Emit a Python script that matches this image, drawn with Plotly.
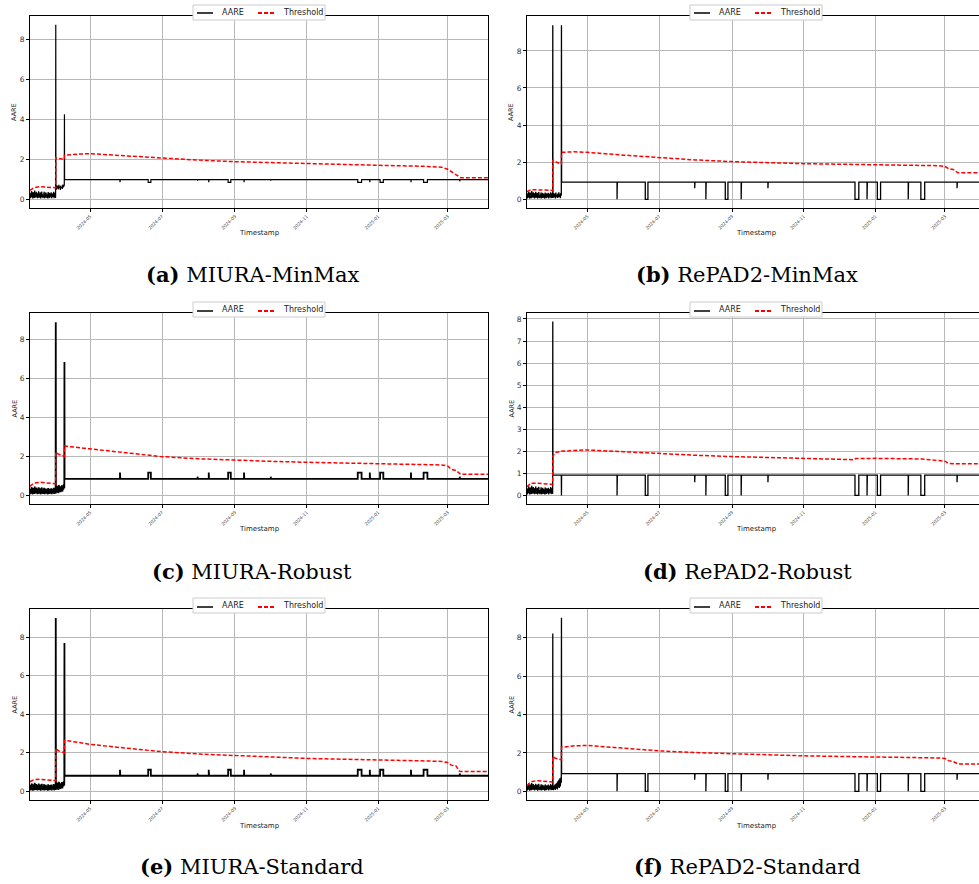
import pandas as pd
import plotly.graph_objects as go

W, H = 979, 884

# ---------------- shared timeline markers ----------------
START = "2024-03-10 17:00"
NOISE_END = "2024-04-01 12:00"
SPIKE1 = "2024-04-01 15:00"
MID_START = "2024-04-01 18:00"
MID_END = "2024-04-08 21:00"
SPIKE2 = "2024-04-09 00:00"
FLAT_START = "2024-04-09 03:00"
FLAT_END = "2025-04-05 00:00"

LEFT_RANGE = ["2024-03-10 17:00", "2025-04-04 07:00"]
RIGHT_RANGE = ["2024-03-10 17:00", "2025-03-29 22:00"]

# early noisy AARE (before first spike)
NOISE_PRE = [0.18, 0.05, 0.32, 0.09, 0.41, 0.12, 0.27, 0.04, 0.36, 0.15, 0.22, 0.06,
             0.44, 0.10, 0.30, 0.08, 0.38, 0.14, 0.25, 0.05, 0.33, 0.11, 0.40, 0.07,
             0.21, 0.13, 0.35, 0.04, 0.28, 0.16, 0.39, 0.09, 0.24, 0.06, 0.31, 0.12,
             0.37, 0.05, 0.26, 0.10, 0.34, 0.07, 0.29, 0.15, 0.20, 0.04, 0.36, 0.11,
             0.23, 0.06, 0.32, 0.09, 0.27, 0.13, 0.35, 0.05, 0.22, 0.08, 0.30, 0.12,
             0.38, 0.06, 0.25, 0.10, 0.33, 0.07]

# anomaly events (shared across methods)
EVENT_START = ["2024-05-26 06:00", "2024-06-19 06:00", "2024-07-31 06:00", "2024-08-09 18:00",
               "2024-08-26 06:00", "2024-09-08 18:00", "2024-10-01 12:00", "2024-12-14 12:00",
               "2024-12-24 18:00", "2025-01-02 12:00", "2025-01-28 18:00", "2025-02-08 12:00",
               "2025-03-11 06:00"]
EVENT_END = ["2024-05-26 12:00", "2024-06-21 12:00", "2024-07-31 12:00", "2024-08-10 00:00",
             "2024-08-28 12:00", "2024-09-09 00:00", "2024-10-01 18:00", "2024-12-17 18:00",
             "2024-12-25 00:00", "2025-01-05 06:00", "2025-01-29 00:00", "2025-02-11 18:00",
             "2025-03-11 12:00"]

# threshold breakpoints (shared dates)
THR_DATES = ["2024-03-10 17:00", "2024-03-14 00:00", "2024-03-19 00:00", "2024-03-26 00:00",
             "2024-04-01 14:00", "2024-04-01 15:00", "2024-04-04 00:00", "2024-04-08 23:00",
             "2024-04-09 00:00", "2024-04-20 00:00", "2024-05-01 00:00", "2024-06-01 00:00",
             "2024-07-01 00:00", "2024-08-01 00:00", "2024-09-01 00:00", "2024-10-01 00:00",
             "2024-11-01 00:00", "2024-12-01 00:00", "2024-12-14 00:00", "2024-12-15 00:00",
             "2025-01-01 00:00", "2025-02-10 00:00", "2025-02-24 00:00", "2025-03-01 00:00",
             "2025-03-04 00:00", "2025-03-08 00:00", "2025-03-11 00:00", "2025-03-12 00:00",
             "2025-04-05 00:00"]

# ---------------- per-panel values ----------------
A_MID = [0.62, 0.48, 0.70, 0.55, 0.66, 0.50, 0.72, 0.58, 0.64, 0.47, 0.69, 0.56, 0.61, 0.52, 0.74, 0.60, 0.66, 0.71]
A_PEAKS = [8.73, 4.25]
A_BASE = 0.98
A_EVT = [0.85, 0.85, 0.93, 0.85, 0.85, 0.85, 0.93, 0.85, 0.85, 0.85, 0.85, 0.85, 0.90]
A_THR = [0.45, 0.58, 0.63, 0.62, 0.58, 2.08, 2.04, 2.00, 2.20, 2.26, 2.28, 2.17, 2.05, 1.96, 1.88,
         1.83, 1.78, 1.74, 1.72, 1.72, 1.70, 1.65, 1.60, 1.50, 1.38, 1.22, 1.12, 1.08, 1.08]

B_MID = [0.25, 0.08, 0.33, 0.12, 0.28, 0.05, 0.36, 0.15, 0.22, 0.07, 0.31, 0.10, 0.38, 0.13, 0.26, 0.06, 0.34, 0.20]
B_PEAKS = [9.38, 9.38]
B_BASE = 0.93
B_EVT = [0, 0, 0.6, 0, 0, 0, 0.6, 0, 0, 0, 0, 0, 0.6]
B_THR = [0.41, 0.52, 0.51, 0.50, 0.48, 2.12, 2.02, 1.90, 2.53, 2.56, 2.53, 2.38, 2.24, 2.12, 2.03,
         1.97, 1.92, 1.89, 1.88, 1.88, 1.87, 1.84, 1.81, 1.77, 1.65, 1.61, 1.45, 1.43, 1.43]

C_MID = [0.35, 0.12, 0.48, 0.20, 0.40, 0.10, 0.52, 0.25, 0.38, 0.15, 0.45, 0.22, 0.50, 0.18, 0.42, 0.28, 0.55, 0.35]
C_PEAKS = [8.90, 6.85]
C_BASE = 0.83
C_EVT = [1.16, 1.16, 0.95, 1.16, 1.16, 1.16, 0.95, 1.16, 1.16, 1.16, 1.16, 1.16, 0.95]
C_THR = [0.45, 0.62, 0.66, 0.63, 0.58, 2.20, 2.10, 2.00, 2.53, 2.45, 2.38, 2.17, 1.98, 1.87, 1.79,
         1.74, 1.69, 1.65, 1.64, 1.64, 1.62, 1.58, 1.55, 1.50, 1.33, 1.27, 1.10, 1.07, 1.07]

D_MID = [0.92, 0.92]
D_PEAKS = [7.89, 0.0]
D_BASE = 0.92
D_EVT = [0, 0, 0.6, 0, 0, 0, 0.6, 0, 0, 0, 0, 0, 0.6]
D_THR = [0.39, 0.55, 0.55, 0.53, 0.50, 1.79, 1.95, 1.99, 2.00, 2.04, 2.06, 1.98, 1.89, 1.82, 1.76,
         1.72, 1.68, 1.64, 1.62, 1.67, 1.68, 1.65, 1.60, 1.55, 1.45, 1.43, 1.43, 1.43, 1.43]

E_MID = [0.30, 0.10, 0.45, 0.18, 0.38, 0.08, 0.50, 0.22, 0.35, 0.12, 0.42, 0.20, 0.48, 0.15, 0.40, 0.25, 0.52, 0.30]
E_PEAKS = [9.00, 7.70]
E_BASE = 0.81
E_EVT = [1.12, 1.12, 0.93, 1.12, 1.12, 1.12, 0.93, 1.12, 1.12, 1.12, 1.12, 1.12, 0.93]
E_THR = [0.50, 0.60, 0.63, 0.60, 0.55, 2.23, 2.10, 2.00, 2.65, 2.55, 2.44, 2.24, 2.06, 1.94, 1.85,
         1.78, 1.71, 1.67, 1.66, 1.66, 1.63, 1.58, 1.55, 1.50, 1.36, 1.32, 1.05, 1.03, 1.03]

F_MID = [0.20, 0.06, 0.30, 0.12, 0.35, 0.08, 0.40, 0.15, 0.45, 0.10, 0.52, 0.20, 0.60, 0.18, 0.68, 0.25, 0.72, 0.45]
F_PEAKS = [8.22, 9.05]
F_BASE = 0.92
F_EVT = [0, 0, 0.6, 0, 0, 0, 0.6, 0, 0, 0, 0, 0, 0.6]
F_THR = [0.30, 0.50, 0.56, 0.53, 0.49, 1.81, 1.72, 1.64, 2.30, 2.37, 2.39, 2.25, 2.11, 2.02, 1.95,
         1.90, 1.85, 1.82, 1.81, 1.81, 1.79, 1.78, 1.74, 1.71, 1.60, 1.55, 1.45, 1.43, 1.43]

SERIES_NAMES = ["AARE", "Threshold"]
CAPTIONS = [("(a)", "MIURA-MinMax"), ("(b)", "RePAD2-MinMax"), ("(c)", "MIURA-Robust"),
            ("(d)", "RePAD2-Robust"), ("(e)", "MIURA-Standard"), ("(f)", "RePAD2-Standard")]
Y_RANGES = [[-0.436, 9.17], [-0.47, 9.88], [-0.46, 9.38], [-0.39, 8.27], [-0.45, 9.47], [-0.45, 9.50]]
Y_DTICK = [2, 2, 2, 1, 2, 2]
AARE_WIDTH = [1.2, 1.3, 1.8, 1.3, 1.8, 1.3]

PANEL_DATA = [
    (A_MID, A_PEAKS, A_BASE, A_EVT, A_THR),
    (B_MID, B_PEAKS, B_BASE, B_EVT, B_THR),
    (C_MID, C_PEAKS, C_BASE, C_EVT, C_THR),
    (D_MID, D_PEAKS, D_BASE, D_EVT, D_THR),
    (E_MID, E_PEAKS, E_BASE, E_EVT, E_THR),
    (F_MID, F_PEAKS, F_BASE, F_EVT, F_THR),
]


def build_aare(mid, peaks, base, evt):
    xs, ys = [], []
    xs += list(pd.date_range(START, NOISE_END, periods=len(NOISE_PRE)))
    ys += NOISE_PRE
    xs.append(pd.Timestamp(SPIKE1)); ys.append(peaks[0])
    xs += list(pd.date_range(MID_START, MID_END, periods=len(mid)))
    ys += mid
    xs.append(pd.Timestamp(SPIKE2)); ys.append(peaks[1])
    xs.append(pd.Timestamp(FLAT_START)); ys.append(base)
    for s, e, lv in zip(EVENT_START, EVENT_END, evt):
        s, e = pd.Timestamp(s), pd.Timestamp(e)
        xs += [s, s, e, e]
        ys += [base, lv, lv, base]
    xs.append(pd.Timestamp(FLAT_END)); ys.append(base)
    return xs, ys


# ---------------- layout geometry (pixels) ----------------
ROWS = [(16, 208), (313, 504), (609, 800)]
COLS = [(30, 488), (527, 979)]
LEG_TOP = [5, 302, 598]
LEG_LINE_Y = [13, 311, 607]
TS_Y = [233, 529, 826]
CAP_Y = [274, 571, 866]
CAP_X = [252, 747]


def px_x(p):
    return p / W


def px_y(p):
    return 1 - p / H


def thr_line(w=1.5):
    return dict(color="rgb(255,0,0)", width=w, dash="4px,2px")


fig = go.Figure()
layout = dict(
    width=W, height=H, margin=dict(l=0, r=0, t=0, b=0),
    paper_bgcolor="white", plot_bgcolor="white",
    font=dict(family="DejaVu Sans", color="#222"),
    showlegend=False,
    annotations=[], shapes=[],
)

thr_x = pd.to_datetime(THR_DATES, format="ISO8601")

for i, (mid, peaks, base, evt, thr) in enumerate(PANEL_DATA):
    n = i + 1
    row, col = divmod(i, 2)
    sfx = "" if n == 1 else str(n)
    xs, ys = build_aare(mid, peaks, base, evt)
    fig.add_trace(go.Scatter(
        x=xs, y=ys, mode="lines", name=SERIES_NAMES[0],
        line=dict(color="black", width=AARE_WIDTH[i]),
        xaxis=f"x{sfx}", yaxis=f"y{sfx}", hoverinfo="skip"))
    fig.add_trace(go.Scatter(
        x=thr_x, y=thr, mode="lines", name=SERIES_NAMES[1], line=thr_line(),
        xaxis=f"x{sfx}", yaxis=f"y{sfx}", hoverinfo="skip"))

    top, bot = ROWS[row]
    left, right = COLS[col]
    layout[f"xaxis{sfx}"] = dict(
        domain=[px_x(left), px_x(right)], anchor=f"y{sfx}", type="date",
        range=LEFT_RANGE if col == 0 else RIGHT_RANGE,
        tickmode="linear", tick0="2024-05-01", dtick="M2", tickformat="%Y-%m",
        tickangle=-45, tickfont=dict(size=4.5, color="#444"),
        ticks="outside", ticklen=3, tickcolor="black",
        showgrid=True, gridcolor="#b8b8b8", gridwidth=1,
        showline=True, linecolor="black", linewidth=1, mirror=True,
        zeroline=False,
    )
    layout[f"yaxis{sfx}"] = dict(
        domain=[px_y(bot), px_y(top)], anchor=f"x{sfx}",
        range=Y_RANGES[i], tickmode="linear", tick0=0, dtick=Y_DTICK[i],
        tickfont=dict(size=7.5, color="#333"),
        ticks="outside", ticklen=3, tickcolor="black",
        showgrid=True, gridcolor="#b8b8b8", gridwidth=1,
        showline=True, linecolor="black", linewidth=1, mirror=(col == 0),
        zeroline=False,
    )
    cx = (left + right) / 2 if col == 0 else left + 229

    # legend box (drawn by hand to match the compact matplotlib legend)
    lt = LEG_TOP[row]
    lb = lt + 15
    ly = lt + 7.5
    lly = LEG_LINE_Y[row]
    layout["shapes"] += [
        dict(type="rect", xref="paper", yref="paper", x0=px_x(cx - 66), x1=px_x(cx + 66),
             y0=px_y(lb), y1=px_y(lt), line=dict(color="#cccccc", width=1), fillcolor="white",
             layer="above"),
        dict(type="line", xref="paper", yref="paper", x0=px_x(cx - 62), x1=px_x(cx - 46),
             y0=px_y(lly), y1=px_y(lly), line=dict(color="black", width=1.5), layer="above"),
        dict(type="line", xref="paper", yref="paper", x0=px_x(cx - 1), x1=px_x(cx + 15),
             y0=px_y(lly), y1=px_y(lly), line=thr_line(2), layer="above"),
    ]
    layout["annotations"] += [
        dict(text=SERIES_NAMES[0], xref="paper", yref="paper", x=px_x(cx - 39), y=px_y(ly),
             showarrow=False, font=dict(size=8, color="#222"), xanchor="left", yanchor="middle"),
        dict(text=SERIES_NAMES[1], xref="paper", yref="paper", x=px_x(cx + 22), y=px_y(ly),
             showarrow=False, font=dict(size=8, color="#222"), xanchor="left", yanchor="middle"),
        dict(text="AARE", xref="paper", yref="paper", x=px_x(left - 16), y=px_y((top + bot) / 2),
             textangle=-90, showarrow=False, font=dict(size=6.5, color="#222"),
             xanchor="center", yanchor="middle"),
        dict(text="Timestamp", xref="paper", yref="paper", x=px_x(cx), y=px_y(TS_Y[row]),
             showarrow=False, font=dict(size=7, color="#222"), xanchor="center", yanchor="middle"),
        dict(text=f"<b>{CAPTIONS[i][0]}</b> {CAPTIONS[i][1]}", xref="paper", yref="paper",
             x=px_x(CAP_X[col]), y=px_y(CAP_Y[row]), showarrow=False,
             font=dict(size=21, color="black", family="DejaVu Serif"),
             xanchor="center", yanchor="middle"),
    ]

fig.update_layout(**layout)
fig.write_html("out.html")
